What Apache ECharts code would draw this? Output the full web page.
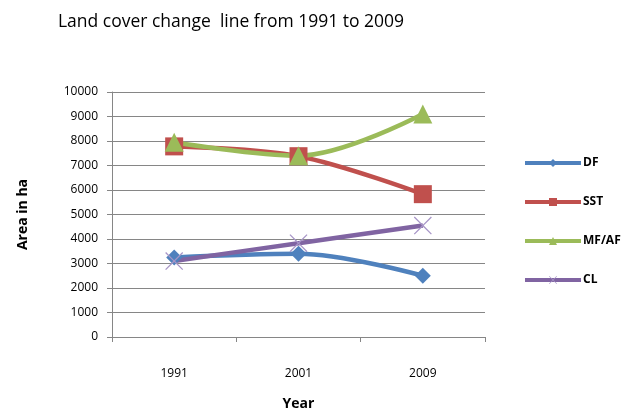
<!DOCTYPE html>
<html>
<head>
<meta charset="utf-8">
<script src="https://cdn.jsdelivr.net/npm/echarts@6/dist/echarts.min.js"></script>
<style>
  html, body { margin: 0; padding: 0; background: #fff; }
  #chart { width: 630px; height: 416px; }
</style>
</head>
<body>
<div id="chart"></div>
<script>
// Land cover area (ha) per class
const years = ['1991', '2001', '2009'];
const df = [3250, 3400, 2500];
const sst = [7780, 7380, 5830];
const mfaf = [7950, 7400, 9100];
const cl = [3100, 3830, 4550];

const FONT = '"Open Sans", "Liberation Sans", sans-serif';
const X_SHAPE = 'path://M0,1L1,0L10,9L19,0L20,1L11,10L20,19L19,20L10,11L1,20L0,19L9,10Z';

function lineSeries(name, data, color, symbol, size, symColor) {
  return {
    name: name,
    type: 'line',
    data: data,
    smooth: 0.35,
    symbol: symbol,
    symbolSize: size,
    showAllSymbol: true,
    lineStyle: { color: color, width: 4.5 },
    itemStyle: { color: symColor || color },
    emphasis: { disabled: true },
    z: 2
  };
}

const chart = echarts.init(document.getElementById('chart'));
chart.setOption({
  animation: false,
  textStyle: { fontFamily: FONT },
  title: {
    text: 'Land cover change  line from 1991 to 2009',
    left: 226, top: 8, textAlign: 'center',
    textStyle: { fontSize: 17.5, fontWeight: 'normal', color: '#000', fontFamily: FONT }
  },
  legend: {
    orient: 'vertical',
    left: 518, top: 152,
    itemWidth: 56, itemHeight: 10, itemGap: 27,
    lineStyle: { width: 4 },
    textStyle: { fontSize: 12, fontWeight: 'bold', color: '#000', padding: [0, 0, 0, -3] },
    data: ['DF', 'SST', 'MF/AF', 'CL']
  },
  grid: { left: 112, right: 145, top: 92, bottom: 77 },
  xAxis: {
    type: 'category',
    data: years,
    boundaryGap: true,
    name: 'Year', nameLocation: 'middle', nameGap: 60,
    nameTextStyle: { fontSize: 14, fontWeight: 'bold', color: '#000' },
    axisLine: { lineStyle: { color: '#868686', width: 1 } },
    axisTick: { show: true, length: 5, lineStyle: { color: '#868686' } },
    axisLabel: { color: '#000', fontSize: 12, margin: 31 }
  },
  yAxis: {
    type: 'value',
    min: 0, max: 10000, interval: 1000,
    name: 'Area in ha', nameLocation: 'middle', nameGap: 82, nameRotate: 90,
    nameTextStyle: { fontSize: 14, fontWeight: 'bold', color: '#000' },
    axisLine: { show: true, lineStyle: { color: '#868686', width: 1 } },
    axisTick: { show: true, length: 5, lineStyle: { color: '#868686' } },
    axisLabel: { color: '#000', fontSize: 12, margin: 14, formatter: function (v) { return String(v); } },
    splitLine: { lineStyle: { color: '#868686', width: 1 } }
  },
  series: [
    lineSeries('DF', df, '#4F81BD', 'diamond', 16),
    lineSeries('SST', sst, '#C0504D', 'rect', 18),
    lineSeries('MF/AF', mfaf, '#9BBB59', 'triangle', 19),
    lineSeries('CL', cl, '#8064A2', X_SHAPE, 18, '#A795C7')
  ]
});
</script>
</body>
</html>
